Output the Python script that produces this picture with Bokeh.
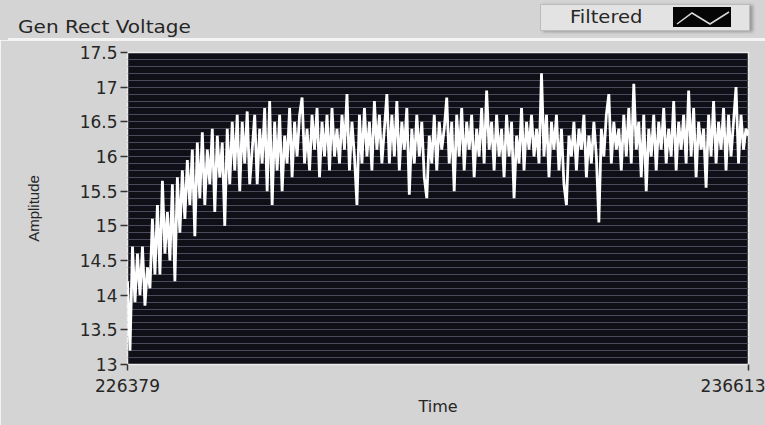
from bokeh.plotting import figure
from bokeh.layouts import column
from bokeh.models import (Range1d, FixedTicker, NumeralTickFormatter, SingleIntervalTicker, Div)
from bokeh.embed import file_html
from bokeh.resources import INLINE

TITLE = "Gen Rect Voltage"
LEGEND_LABEL = "Filtered"
X_LABEL = "Time"
Y_LABEL = "Amplitude"
T_START = 226379
T_END = 236613
X_TICKS = [226379, 236613]
Y_MIN, Y_MAX = 13, 17.5
Y_TICKS = [13, 13.5, 14, 14.5, 15, 15.5, 16, 16.5, 17, 17.5]

# rising part of the record
rise_values = [
    14.2, 13.2, 14.7, 13.9, 14.6, 14.0, 14.7, 13.85, 14.4, 14.1,
    15.1, 14.3, 15.3, 14.3, 15.65, 14.6, 15.2, 14.5, 15.6, 14.2,
    15.7, 14.9, 15.8, 15.1, 15.95, 15.3, 16.1, 14.85, 16.2, 15.4,
    16.35, 15.3, 16.1, 15.6, 16.4, 15.2, 16.3, 15.7, 16.2, 15.0,
    16.4, 15.6, 16.5, 15.8, 16.6, 15.5, 16.5, 15.9, 16.65, 15.6,
]
# steady part of the record
steady_values = [
    16.1, 16.6, 15.6, 16.4, 15.9, 16.7, 15.5, 16.8, 15.3, 16.5,
    15.8, 16.6, 15.5, 16.3, 15.9, 16.7, 15.7, 16.5, 16.0, 16.6,
    16.85, 15.9, 16.4, 15.8, 16.6, 16.1, 16.7, 15.7, 16.5, 16.0,
    16.6, 15.8, 16.7, 16.0, 16.4, 15.9, 16.6, 16.1, 16.9, 15.8,
    16.5, 16.0, 15.3, 16.6, 15.9, 16.7, 16.0, 16.5, 15.8, 16.8,
    16.1, 16.6, 15.9, 16.4, 16.9, 15.9, 16.6, 16.0, 16.8, 15.8,
    16.5, 16.1, 16.7, 15.45, 16.4, 15.9, 16.6, 16.0, 16.5, 15.7,
    15.4, 16.3, 15.9, 16.6, 15.8, 16.5, 16.1, 16.4, 16.85, 15.9,
    16.5, 15.5, 16.6, 16.0, 16.7, 15.8, 16.5, 16.1, 16.6, 15.7,
    16.4, 16.0, 16.7, 15.9, 16.95, 16.1, 16.5, 15.8, 16.6, 16.0,
    16.4, 15.7, 16.6, 16.0, 16.5, 15.4, 16.3, 15.9, 16.7, 15.8,
    16.5, 16.1, 16.6, 16.0, 16.4, 15.9, 17.2, 16.0, 16.6, 15.7,
    16.5, 16.1, 16.6, 15.8, 16.4, 15.6, 15.3, 16.3, 16.0, 16.5,
    15.8, 16.4, 16.1, 16.6, 15.7, 16.3, 15.9, 16.5, 16.0, 15.05,
    16.4, 16.0, 16.6, 16.9, 15.9, 16.5, 16.1, 16.4, 15.8, 16.6,
    16.0, 16.7, 15.9, 17.05, 16.1, 16.5, 15.7, 16.6, 15.5, 16.4,
    16.0, 16.6, 15.8, 16.5, 16.1, 16.7, 15.9, 16.4, 16.0, 16.8,
    15.8, 16.5, 16.1, 16.6, 15.9, 16.95, 16.0, 16.7, 15.7, 16.5,
    16.1, 16.4, 15.55, 16.6, 16.0, 16.8, 15.9, 16.5, 16.1, 16.7,
    15.8, 16.6, 16.0, 16.5, 17.0, 15.9, 16.6, 16.1, 16.4, 16.3,
]

values = rise_values + steady_values
n = len(values)
times = [T_START + (T_END - T_START) * i / (n - 1) for i in range(n)]

FONT = "DejaVu Sans"
TXT = "#262626"
PANEL = "#d4d4d4"
W = 765
HEADER_H = 40
MAIN_H = 425 - HEADER_H

# ---- header: chart title and plot legend ----
header_html = f"""
<div style="position:relative;width:{W}px;height:{HEADER_H}px;background:{PANEL};
            font-family:'{FONT}';color:{TXT};overflow:hidden;">
  <div style="position:absolute;left:8px;right:0;top:38px;height:2px;background:#f4f4f4;"></div>
  <div style="position:absolute;left:18px;top:17px;font-size:17px;line-height:20px;white-space:nowrap;
              transform:scaleX(1.18);transform-origin:left center;">{TITLE}</div>
  <div style="position:absolute;left:540px;top:4px;width:210px;height:27px;background:#e3e3e3;
              border:1px solid #bcbcbc;box-shadow:3px 1px 3px #9a9a9a;"></div>
  <div style="position:absolute;left:570px;top:7px;font-size:17px;line-height:20px;white-space:nowrap;
              transform:scaleX(1.15);transform-origin:left center;">{LEGEND_LABEL}</div>
  <svg style="position:absolute;left:673px;top:7px;" width="58" height="20">
    <rect x="0" y="0" width="58" height="20" fill="#050505"/>
    <polyline points="4,17 19,6 37,17 56,5" fill="none" stroke="#d8d8d8" stroke-width="1.5"/>
  </svg>
</div>
"""
header = Div(text=header_html, width=W, height=HEADER_H, margin=0)

# ---- main chart ----
p = figure(width=W, height=MAIN_H, output_backend="svg", toolbar_location=None,
           x_range=Range1d(T_START, T_END), y_range=Range1d(Y_MIN, Y_MAX),
           min_border_left=127, min_border_right=17, min_border_top=12, min_border_bottom=61,
           background_fill_color="#0f0f17", border_fill_color=PANEL,
           outline_line_color="#ececec", outline_line_width=1.5, margin=0)

p.xgrid.visible = False
p.ygrid.ticker = SingleIntervalTicker(interval=0.1, num_minor_ticks=0)
p.ygrid.grid_line_color = "#4a4a5c"
p.ygrid.grid_line_width = 1

p.line(times, values, line_color="white", line_width=2.8)

p.yaxis.ticker = FixedTicker(ticks=Y_TICKS)
p.yaxis.formatter = NumeralTickFormatter(format="0.[0]")
p.xaxis.ticker = FixedTicker(ticks=X_TICKS)
p.xaxis.formatter = NumeralTickFormatter(format="0")
for ax in (p.xaxis, p.yaxis):
    ax.major_label_text_font = FONT
    ax.major_label_text_font_size = "17px"
    ax.major_label_text_color = TXT
    ax.major_tick_in = 0
    ax.minor_tick_line_color = None
    ax.major_tick_line_color = "#333333"
    ax.major_tick_line_width = 1.5
    ax.axis_line_color = None
    ax.axis_label_text_font_style = "normal"
    ax.axis_label_text_color = TXT
p.yaxis.major_tick_out = 7
p.yaxis.major_label_standoff = 3
p.xaxis.major_tick_out = 6
p.xaxis.major_label_standoff = 8
p.yaxis.axis_label = Y_LABEL
p.yaxis.axis_label_text_font = "Liberation Sans"
p.yaxis.axis_label_text_font_size = "15px"
p.yaxis.axis_label_standoff = 35
p.xaxis.axis_label = X_LABEL
p.xaxis.axis_label_text_font = FONT
p.xaxis.axis_label_text_font_size = "16px"
p.xaxis.axis_label_standoff = 2

layout = column(header, p, spacing=0)
open("out.html", "w").write(file_html(layout, INLINE))
